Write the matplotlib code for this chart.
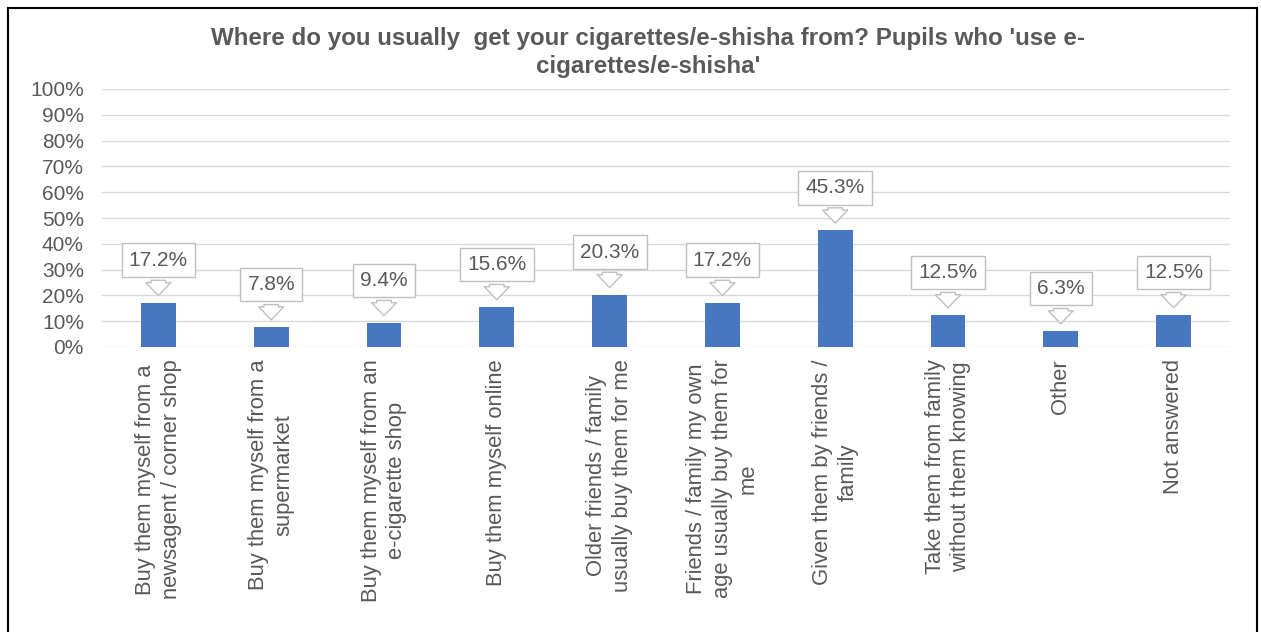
#Where pupils who use e-cigarettes/e-shisha get them from

import numpy as np
import matplotlib.pyplot as plt
from matplotlib.patches import Rectangle

#data
categories = ['Buy them myself from a\nnewsagent / corner shop',
              'Buy them myself from a\nsupermarket',
              'Buy them myself from an\ne-cigarette shop',
              'Buy them myself online',
              'Older friends / family\nusually buy them for me',
              'Friends / family my own\nage usually buy them for\nme',
              'Given them by friends /\nfamily',
              'Take them from family\nwithout them knowing',
              'Other',
              'Not answered']
values = [17.2, 7.8, 9.4, 15.6, 20.3, 17.2, 45.3, 12.5, 6.3, 12.5]
yticks = [0, 10, 20, 30, 40, 50, 60, 70, 80, 90, 100]

title = ("Where do you usually  get your cigarettes/e-shisha from? Pupils who 'use e-\n"
         "cigarettes/e-shisha'")

txt_col = '#595959'
bar_col = '#4677BF'
grid_col = '#d9d9d9'

plt.rcParams['font.family'] = ['Liberation Sans', 'DejaVu Sans']

fig = plt.figure(figsize=(12.61, 6.32), dpi=100)
ax = fig.add_axes([102/1261, 1-347/632, 1128/1261, 258/632])

x = np.arange(len(categories))
ax.bar(x, values, width=0.31, color=bar_col, zorder=3)

ax.set_xlim(-0.5, len(categories)-0.5)
ax.set_ylim(0, 100)
ax.set_yticks(yticks)
ax.set_yticklabels([str(t) + '%' for t in yticks])
ax.grid(axis='y', color=grid_col, lw=1, zorder=0)
for s in ax.spines.values():
    s.set_visible(False)
ax.tick_params(axis='y', length=0, pad=13, labelsize=15, labelcolor=txt_col)

ax.set_xticks(x)
ax.set_xticklabels(categories, rotation=90, ha='center', va='top',
                   multialignment='center', linespacing=1.3)
ax.tick_params(axis='x', length=0, pad=9, labelsize=15.8, labelcolor=txt_col)

#callout labels above each bar
for i, v in enumerate(values):
    ax.annotate('%.1f%%' % v, xy=(i, v), xytext=(0, 30.5),
                textcoords='offset points', ha='center', va='center',
                fontsize=15, color=txt_col,
                bbox=dict(boxstyle='square,pad=0.35', fc='white', ec='#bfbfbf', lw=1),
                arrowprops=dict(arrowstyle='simple,head_length=0.94,head_width=1.8,tail_width=1.05',
                                fc='white', ec='#bfbfbf', lw=1, shrinkB=5,
                                mutation_scale=10),
                zorder=4)

fig.text(648/1261, 1-27/632, title, ha='center', va='top', multialignment='center',
         fontsize=17.4, fontweight='bold', color='#595959', linespacing=1.3)

#black frame round the chart
fig.patches.append(Rectangle((8/1261, -0.02), 1249/1261, 1.02-8/632,
                             transform=fig.transFigure, fill=False,
                             ec='black', lw=1.5))

plt.savefig('out.png', dpi=100)
